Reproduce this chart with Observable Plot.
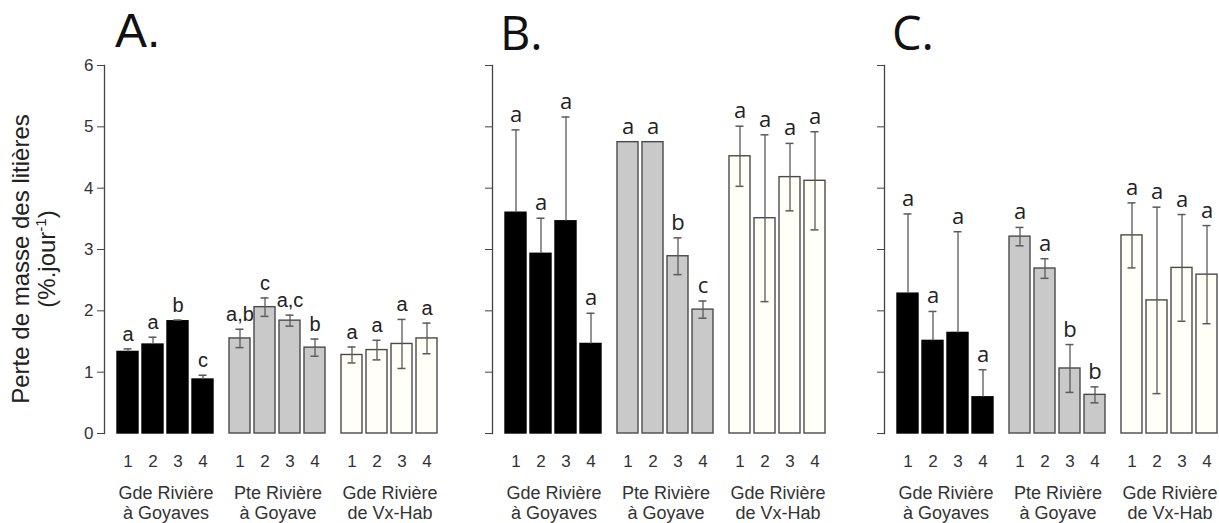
<!DOCTYPE html>
<html>
<head>
<meta charset="utf-8">
<script src="https://cdn.jsdelivr.net/npm/d3@7"></script>
<script src="https://cdn.jsdelivr.net/npm/@observablehq/plot@0.6"></script>
<style>
  html, body { margin: 0; padding: 0; background: white; overflow: hidden; }
  #fig { position: relative; width: 1219px; height: 523px; overflow: hidden; background: white; }
  .panel { position: absolute; top: 0; }
  .title { position: absolute; color: #111; white-space: nowrap; }
  #ylab { position: absolute; left: -126px; top: 233px; width: 320px; height: 52px;
          transform: rotate(-90deg); text-align: center; font: 24px "Liberation Sans", Arial, sans-serif;
          line-height: 26px; color: #222; white-space: nowrap; }
  #ylab sup { font-size: 15px; line-height: 0; }
</style>
</head>
<body>
<div id="fig">
  <div id="ylab">Perte de masse des litières<br>(%.jour<sup>-1</sup>)</div>
</div>
<script>
// Rivers (groups) and sampling sites
const groups = ["Gde Rivière\nà Goyaves", "Pte Rivière\nà Goyave", "Gde Rivière\nde Vx-Hab"];
const sites = ["1", "2", "3", "4"];
const yTicks = [0, 1, 2, 3, 4, 5, 6];
const panels = ["A.", "B.", "C."];

// Mean mass loss (%.day-1), 4 sites per river, rivers in order
const meanA = [1.33, 1.45, 1.83, 0.88, 1.55, 2.06, 1.84, 1.40, 1.28, 1.36, 1.46, 1.55];
const meanB = [3.60, 2.93, 3.46, 1.46, 4.75, 4.75, 2.89, 2.02, 4.52, 3.51, 4.18, 4.12];
const meanC = [2.28, 1.51, 1.64, 0.59, 3.21, 2.69, 1.06, 0.63, 3.23, 2.17, 2.70, 2.59];

// Error half-widths
const errA = [0.05, 0.12, 0.02, 0.07, 0.15, 0.15, 0.09, 0.14, 0.13, 0.16, 0.40, 0.25];
const errB = [1.35, 0.58, 1.70, 0.50, 0, 0, 0.30, 0.14, 0.49, 1.36, 0.55, 0.80];
const errC = [1.30, 0.48, 1.65, 0.45, 0.15, 0.16, 0.39, 0.13, 0.53, 1.52, 0.87, 0.80];

// Significance letters
const letA = ["a", "a", "b", "c", "a,b", "c", "a,c", "b", "a", "a", "a", "a"];
const letB = ["a", "a", "a", "a", "a", "a", "b", "c", "a", "a", "a", "a"];
const letC = ["a", "a", "a", "a", "a", "a", "b", "b", "a", "a", "a", "a"];

// Bar styling per river
const fills = ["#000000", "#c9c9c9", "#fffff8"];
const strokes = ["#000000", "#4a4a4a", "#4a4a4a"];

function rows(mean, err, letters) {
  return mean.map((v, i) => {
    const g = Math.floor(i / 4);
    return {
      group: groups[g], site: sites[i % 4], value: v, err: err[i], letter: letters[i],
      // the lower whisker disappears inside the black bars
      lo: g === 0 ? v : v - err[i], hi: v + err[i],
      fill: fills[g], stroke: strokes[g]
    };
  });
}

const sans = "Liberation Sans, Arial, sans-serif";
const open = "Open Sans, sans-serif";

const series = [
  {data: rows(meanA, errA, letA), labels: true, left: 0, font: sans, letterSize: 20},
  {data: rows(meanB, errB, letB), labels: false, left: 388, font: open, letterSize: 22},
  {data: rows(meanC, errC, letC), labels: false, left: 780, font: open, letterSize: 22}
];

const titleSpec = [
  {left: 115, top: 7, size: 48, font: sans},
  {left: 500, top: 9, size: 47, font: open},
  {left: 892, top: 9, size: 47, font: open}
];

const fig = document.getElementById("fig");

series.forEach((s, k) => {
  const bars = s.data;
  const whiskers = bars.filter(d => d.err > 0);
  const chart = Plot.plot({
    width: 441,
    height: 523,
    marginTop: 65,
    marginBottom: 90,
    marginLeft: 103,
    marginRight: 0,
    style: {background: "transparent", overflow: "visible", fontFamily: sans, color: "#333"},
    y: {domain: [0, 6], axis: null},
    x: {domain: sites, paddingInner: 4 / 26, paddingOuter: 0, insetLeft: 12, axis: null},
    fx: {domain: groups, paddingInner: 1 / 113, paddingOuter: 0, axis: null},
    marks: [
      Plot.barY(bars, {x: "site", fx: "group", y: "value", fill: "fill", stroke: "stroke", strokeWidth: 1.4}),
      Plot.ruleX(whiskers, {x: "site", fx: "group", y1: "lo", y2: "hi", stroke: "#5a5a5a", strokeWidth: 1.3}),
      Plot.tickY(whiskers, {x: "site", fx: "group", y: "hi", stroke: "#5a5a5a", strokeWidth: 1.5, insetLeft: 6.5, insetRight: 6.5}),
      Plot.tickY(whiskers.filter(d => d.lo < d.value), {x: "site", fx: "group", y: "lo", stroke: "#5a5a5a", strokeWidth: 1.5, insetLeft: 6.5, insetRight: 6.5}),
      Plot.text(bars, {x: "site", fx: "group", y: "hi", text: "letter", lineAnchor: "bottom", dy: -8, fontSize: s.letterSize, fill: "#222", fontFamily: s.font}),
      Plot.frame({anchor: "left", facetAnchor: "left", stroke: "#444", strokeWidth: 1.3}),
      Plot.axisY({ticks: yTicks, tickSize: 7, tickPadding: 4, fontSize: 17, label: null, stroke: "#444",
                  tickFormat: s.labels ? d3.format("d") : () => ""}),
      Plot.axisX({tickSize: 0, tickPadding: 21, fontSize: 17, label: null}),
      Plot.axisFx({anchor: "bottom", tickSize: 0, tickPadding: 51, fontSize: 18, lineHeight: 1.11, label: null, dx: 6})
    ]
  });
  chart.classList.add("panel");
  chart.style.left = s.left + "px";
  fig.appendChild(chart);

  const t = document.createElement("div");
  t.className = "title";
  t.textContent = panels[k];
  t.style.left = titleSpec[k].left + "px";
  t.style.top = titleSpec[k].top + "px";
  t.style.fontSize = titleSpec[k].size + "px";
  t.style.lineHeight = titleSpec[k].size + "px";
  t.style.fontFamily = titleSpec[k].font;
  fig.appendChild(t);
});
</script>
</body>
</html>
